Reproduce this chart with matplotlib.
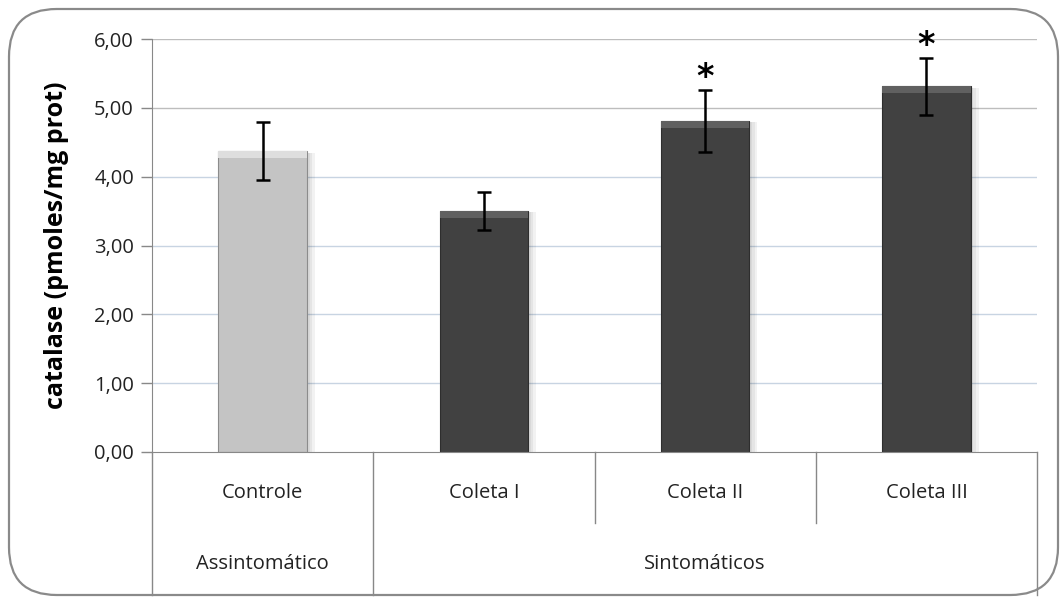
import matplotlib
matplotlib.use("Agg")
import matplotlib.pyplot as plt
from matplotlib.patches import FancyBboxPatch
import matplotlib.transforms as mtransforms

categories = ["Controle", "Coleta I", "Coleta II", "Coleta III"]
groups = ["Assintomático", "Sintomáticos"]
group_sizes = [1, 3]
values = [4.37, 3.50, 4.81, 5.31]
errors = [0.42, 0.27, 0.45, 0.42]
significant = [False, False, True, True]
yticks = [0, 1, 2, 3, 4, 5, 6]
ytick_labels = ["0,00", "1,00", "2,00", "3,00", "4,00", "5,00", "6,00"]
ylabel = "catalase (pmoles/mg prot)"

bar_colors = ["#c4c4c4", "#414141", "#414141", "#414141"]
bevel_colors = ["#dedede", "#606060", "#606060", "#606060"]
edge_colors = ["#8c8c8c", "#2e2e2e", "#2e2e2e", "#2e2e2e"]

plt.rcParams['font.family'] = ['Open Sans', 'DejaVu Sans']

fig = plt.figure(figsize=(10.61, 5.99), dpi=100)
W, H = 1061, 599
ax = fig.add_axes([152 / W, 1 - 452 / H, (1037 - 152) / W, (452 - 39) / H])

# rounded outer frame
frame = FancyBboxPatch((9 / W, 4 / H), 1049 / W, 586 / H,
                       boxstyle="round,pad=0,rounding_size=0.045",
                       transform=fig.transFigure, facecolor="none",
                       edgecolor="#8a8a8a", linewidth=1.6, mutation_aspect=W / H)
fig.patches.append(frame)

x = list(range(len(categories)))
width = 0.40

# grid lines
for t in yticks[1:]:
    col = "#bdbdbd" if t >= 5 else "#c8d4e2"
    ax.axhline(t, color=col, linewidth=1.0, zorder=0)

# soft shadows
for k, a in enumerate([0.05, 0.05, 0.05]):
    off = 0.012 * (k + 1)
    ax.bar([xi + off for xi in x], [v - 0.02 for v in values], width=width,
           color="#000000", alpha=a, zorder=1, linewidth=0)
# bars
ax.bar(x, values, width=width, color=bar_colors, edgecolor=edge_colors,
       linewidth=0.8, zorder=2)
# bevel at top of bars
bevel_h = 0.10
ax.bar(x, [bevel_h] * len(values), bottom=[v - bevel_h for v in values],
       width=width, color=bevel_colors, linewidth=0, zorder=3)

# error bars
ax.errorbar(x, values, yerr=errors, fmt="none", ecolor="black",
            elinewidth=1.8, capsize=5, capthick=1.8, zorder=4)

# significance asterisks
for xi, v, e, s in zip(x, values, errors, significant):
    if s:
        ax.annotate("*", (xi, v + e), xytext=(0, -3), textcoords="offset points",
                    ha="center", va="bottom", fontsize=24, fontweight="bold",
                    family=["DejaVu Sans"])

ax.set_xlim(-0.5, len(categories) - 0.5)
ax.set_ylim(0, 6)
ax.set_yticks(yticks)
ax.set_yticklabels(ytick_labels, fontsize=14.5, color="#222222")
ax.tick_params(axis="y", length=8, width=1, color="#888888", pad=5)
ax.set_xticks([])

for sp in ["top", "right"]:
    ax.spines[sp].set_visible(False)
ax.spines["left"].set_color("#888888")
ax.spines["bottom"].set_color("#888888")
ax.spines["left"].set_zorder(0)

ax.set_ylabel(ylabel, fontsize=18, fontweight="bold", labelpad=18)

# category labels and separators below axis
trans = mtransforms.blended_transform_factory(ax.transData, ax.transAxes)
y_cat = -0.10
y_grp = -0.27
y_inner = -0.172
y_outer = -0.346
for xi, c in zip(x, categories):
    ax.text(xi, y_cat, c, transform=trans, ha="center", va="center",
            fontsize=14.5, color="#222222")

bounds = [-0.5]
for gs in group_sizes:
    bounds.append(bounds[-1] + gs)
group_bounds = set(bounds)
for b in [i - 0.5 for i in range(len(categories) + 1)]:
    ybot = y_outer if b in group_bounds else y_inner
    ax.plot([b, b], [0, ybot], transform=trans, color="#888888",
            linewidth=1.0, clip_on=False)

start = -0.5
for g, gs in zip(groups, group_sizes):
    center = start + gs / 2
    ax.text(center, y_grp, g, transform=trans, ha="center", va="center",
            fontsize=14.5, color="#222222")
    start += gs

fig.savefig("out.png", dpi=100)
